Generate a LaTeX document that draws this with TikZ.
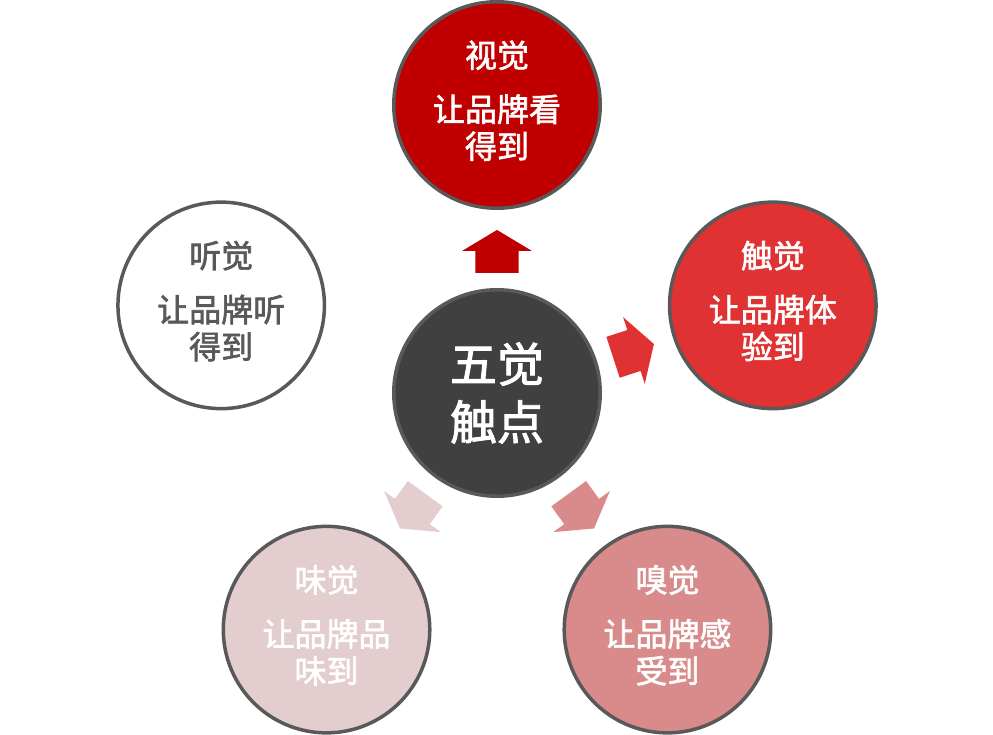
\documentclass[tikz,border=0pt]{standalone}
\usepackage{fontspec}
\newfontfamily\cjk[FakeBold=2]{Noto Sans CJK SC}
\definecolor{ringgray}{HTML}{595959}
\definecolor{coregray}{HTML}{404040}
\definecolor{shijue}{HTML}{C00000}
\definecolor{chujue}{HTML}{E03232}
\definecolor{xiujue}{HTML}{D98A8A}
\definecolor{weijue}{HTML}{E3CDCE}
\tikzset{
    sense/.style={circle, draw=ringgray, line width=3.5pt, minimum size=206.5pt,
        inner sep=0pt, align=center, text=white,
        font=\cjk\fontsize{32}{37}\selectfont},
}
\begin{document}
\begin{tikzpicture}[x=1pt,y=1pt]
    \useasboundingbox (-497,-340) rectangle (496,395);
    %% Centre
    \node[sense, fill=coregray, font=\cjk\fontsize{47}{58}\selectfont] (core) at (0,2) {五觉\\触点};
    %% Five senses
    \node[sense, fill=shijue] (see) at (90:290pt) {视觉\\[17pt]让品牌看\\得到\\[-37pt]\strut};
    \node[sense, fill=chujue] (touch) at (18:290pt) {触觉\\[17pt]让品牌体\\验到\\[-37pt]\strut};
    \node[sense, fill=xiujue] (smell) at (-54:290pt) {嗅觉\\[17pt]让品牌感\\受到\\[-37pt]\strut};
    \node[sense, fill=weijue] (taste) at (-126:290pt) {味觉\\[17pt]让品牌品\\味到\\[-37pt]\strut};
    \node[sense, fill=white, text=ringgray] (hear) at (162:290pt) {听觉\\[17pt]让品牌听\\得到\\[-37pt]\strut};
    %% Block arrows
    \foreach \a/\c in {90/shijue, 18/chujue, -54/xiujue, -126/weijue}
        \fill[\c, rotate=\a] (122,-21.5) -- (144,-21.5) -- (144,-35) -- (165,0)
            -- (144,35) -- (144,21.5) -- (122,21.5) -- cycle;
\end{tikzpicture}
\end{document}
